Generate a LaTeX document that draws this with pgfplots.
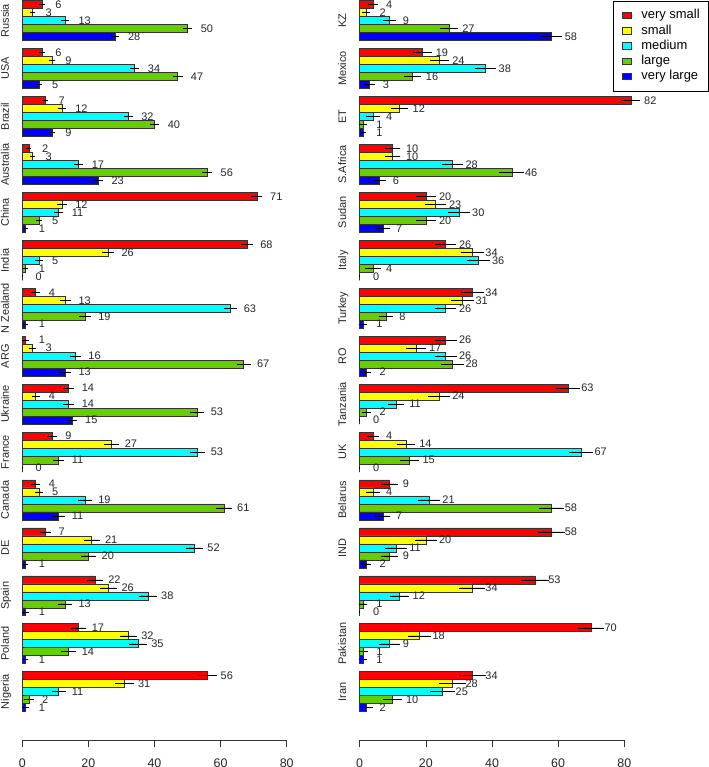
\documentclass[border=0pt]{standalone}
\usepackage{pgfplots}
\pgfplotsset{compat=1.18}
\usepackage{pgfplotstable}
\usepackage{fontspec}
\setmainfont{Liberation Sans}
\definecolor{cvs}{RGB}{255,0,0}
\definecolor{cs}{RGB}{255,255,0}
\definecolor{cm}{RGB}{0,255,255}
\definecolor{cl}{RGB}{102,205,0}
\definecolor{cvl}{RGB}{0,0,255}

% group position (0 = top), values in %, half-widths of error bars
\pgfplotstableread{
g vs s m l vl evs es em el evl
0 6 3 13 50 28 0.55 0.4 0.8 1.0 0.85
-1 6 9 34 47 5 0.6 0.65 1.0 1.15 0.5
-2 7 12 32 40 9 0.55 0.8 1.0 1.0 0.5
-3 2 3 17 56 23 0.4 0.45 1.05 1.15 1.1
-4 71 12 11 5 1 1.3 1.1 1.0 0.6 0.25
-5 68 26 5 1 0 1.4 1.4 0.8 0.4 0
-6 4 13 63 19 1 0.9 1.35 1.65 1.4 0.4
-7 1 3 16 67 13 0.7 0.7 1.35 1.75 1.4
-8 14 4 14 53 15 1.35 0.85 1.4 1.75 1.15
-9 9 27 53 11 0 1.1 1.8 2.0 1.25 0
-10 4 5 19 61 11 1.0 0.75 1.75 2.1 1.5
-11 7 21 52 20 1 1.35 2.1 2.25 1.95 0.5
-12 22 26 38 13 1 2.1 2.15 2.4 1.7 0.6
-13 17 32 35 14 1 2.0 2.2 2.5 1.8 0.5
-14 56 31 11 2 1 2.4 2.45 1.75 1.25 0.6
}\lefttab

\pgfplotstableread{
g vs s m l vl evs es em el evl
0 4 2 9 27 58 1.2 0.9 1.65 2.4 2.85
-1 19 24 38 16 3 2.4 2.5 2.75 2.2 1.25
-2 82 12 4 1 1 2.35 2.1 1.85 0.7 0.6
-3 10 10 28 46 6 1.9 1.95 2.9 3.4 1.6
-4 20 23 30 20 7 2.65 2.75 3.0 2.6 1.85
-5 26 34 36 4 0 2.9 3.15 3.1 2.0 0
-6 34 31 26 8 1 3.1 3.1 2.85 1.8 0.9
-7 26 17 26 28 2 3.0 2.6 3.0 3.1 1.1
-8 63 24 11 2 0 3.35 3.0 2.15 1.0 0
-9 4 14 67 15 0 1.4 2.5 3.25 2.6 0
-10 9 4 21 58 7 2.15 1.7 2.9 3.35 1.9
-11 58 20 11 9 2 3.65 3.0 2.85 2.25 1.2
-12 53 34 12 1 0 3.85 3.65 2.6 0.9 0
-13 70 18 9 1 1 3.6 3.15 2.75 1.0 0.8
-14 34 28 25 10 2 3.75 3.75 3.5 2.5 1.65
}\righttab

\pgfplotsset{
  panel/.style={
    scale only axis, height=740bp,
    xmin=0, xmax=80, ymin=-15.008, ymax=0.4313,
    xbar, bar width=0.16667,
    legend image code/.code={\draw[##1, line width=0.6bp] (0bp,-3.2bp) rectangle (9.5bp,3.2bp);},
    axis x line=bottom, axis y line=left,
    y axis line style={draw=none},
    x axis line style={-, line width=0.6bp, black!80},
    xtick={0,20,40,60,80},
    ytick={0,-1,-2,-3,-4,-5,-6,-7,-8,-9,-10,-11,-12,-13,-14},
    major tick length=7.5bp,
    tick align=outside,
    xtick style={black!80, line width=0.6bp},
    ytick style={draw=none},
    /pgf/number format/assume math mode=true,
    xticklabel style={font=\fontsize{12.5}{14}\selectfont, anchor=north, inner sep=0pt, yshift=-10.8bp, text=black!85},
    yticklabel style={xshift=-6bp, rotate=90, anchor=base, inner sep=0pt, font=\fontsize{11}{13}\selectfont, text=black!85},
    nodes near coords,
    every node near coord/.append style={anchor=west, xshift=13bp, inner sep=0pt, font=\fontsize{11}{13}\selectfont, text=black!85},
    error bars/error bar style={line width=0.5bp, black},
    error bars/error mark options={line width=0.5bp, mark size=1.2bp, black},
    every axis plot/.append style={draw=black!80, line width=0.6bp},
    clip=false,
  }
}

\begin{document}
\begin{tikzpicture}
\path[use as bounding box] (0,0) rectangle (709bp,767bp);

\begin{axis}[panel, width=264.4bp, at={(22.3bp,27bp)}, anchor=south west,
  yticklabels={Russia,USA,Brazil,Australia,China,India,N Zealand,ARG,Ukraine,France,Canada,DE,Spain,Poland,Nigeria}]
\addplot[fill=cvs, bar shift=0.33333, error bars/.cd, x dir=both, x explicit] table[x=vs, y=g, x error=evs] {\lefttab};
\addplot[fill=cs, bar shift=0.16667, error bars/.cd, x dir=both, x explicit] table[x=s, y=g, x error=es] {\lefttab};
\addplot[fill=cm, bar shift=0, error bars/.cd, x dir=both, x explicit] table[x=m, y=g, x error=em] {\lefttab};
\addplot[fill=cl, bar shift=-0.16667, error bars/.cd, x dir=both, x explicit] table[x=l, y=g, x error=el] {\lefttab};
\addplot[fill=cvl, bar shift=-0.33333, error bars/.cd, x dir=both, x explicit] table[x=vl, y=g, x error=evl] {\lefttab};
\end{axis}

\begin{axis}[panel, width=264.6bp, at={(359.7bp,27bp)}, anchor=south west,
  yticklabels={KZ,Mexico,ET,S.Africa,Sudan,Italy,Turkey,RO,Tanzania,UK,Belarus,IND,{},Pakistan,Iran},
  legend style={at={(1.318,0.999)}, anchor=north east, draw=black, line width=0.6bp,
    inner xsep=8.5bp, inner ysep=8.3bp, font=\fontsize{13}{15}\selectfont,
    row sep=2.95bp, /tikz/every odd column/.append style={column sep=9.4bp},
    nodes={inner sep=0pt, text height=9.5bp, text depth=2.8bp}},
  legend cell align=left]
\addplot[fill=cvs, bar shift=0.33333, error bars/.cd, x dir=both, x explicit] table[x=vs, y=g, x error=evs] {\righttab};
\addplot[fill=cs, bar shift=0.16667, error bars/.cd, x dir=both, x explicit] table[x=s, y=g, x error=es] {\righttab};
\addplot[fill=cm, bar shift=0, error bars/.cd, x dir=both, x explicit] table[x=m, y=g, x error=em] {\righttab};
\addplot[fill=cl, bar shift=-0.16667, error bars/.cd, x dir=both, x explicit] table[x=l, y=g, x error=el] {\righttab};
\addplot[fill=cvl, bar shift=-0.33333, error bars/.cd, x dir=both, x explicit] table[x=vl, y=g, x error=evl] {\righttab};
\legend{very small,small,medium,large,very large}
\end{axis}
\end{tikzpicture}
\end{document}
